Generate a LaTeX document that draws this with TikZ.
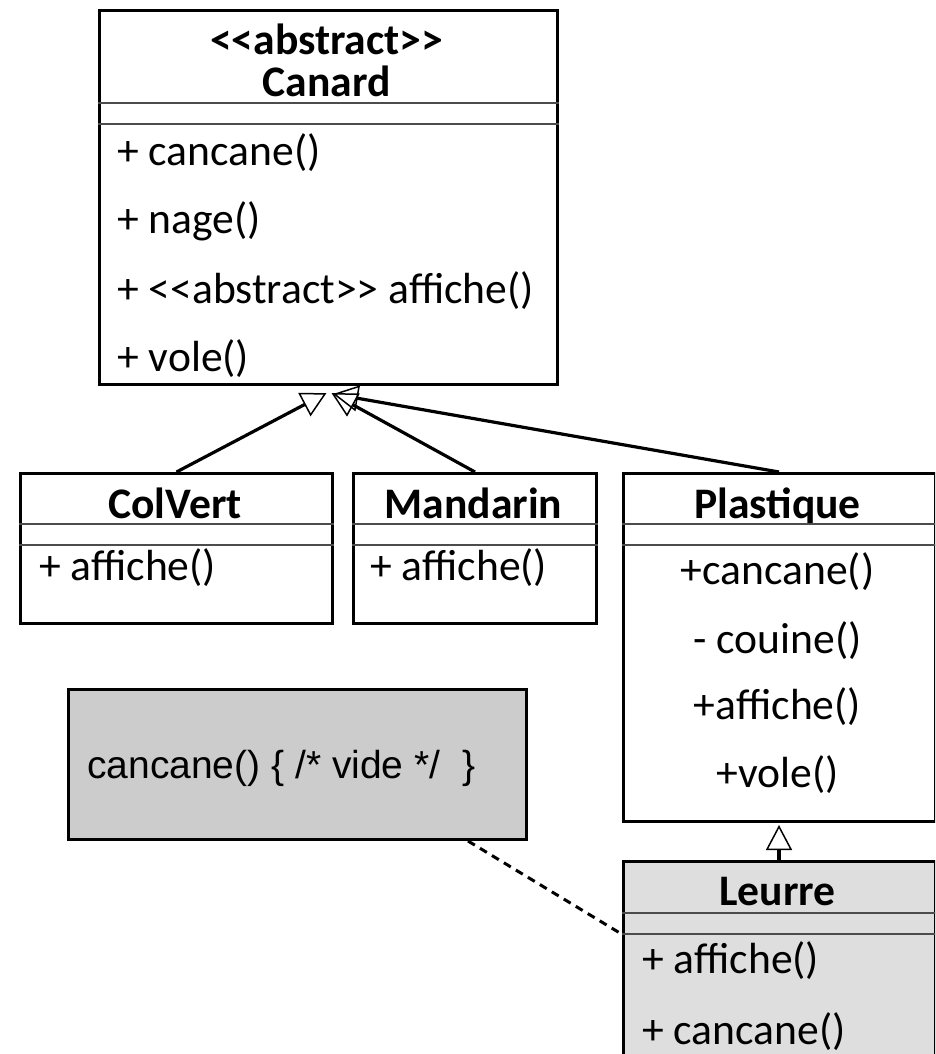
\documentclass[tikz,border=0pt]{standalone}
\usepackage{fontspec}
\setmainfont{Carlito}
\newfontfamily\notefont{Liberation Sans}
\usetikzlibrary{arrows.meta}
\newcommand\ltlt{<\kern0pt<}
\newcommand\gtgt{>\kern0pt>}
\begin{document}
\begin{tikzpicture}[x=1pt,y=-1pt,
  classbox/.style={draw, line width=3pt, inner sep=0, anchor=north west},
  sepline/.style={line width=1.3pt, draw=black!70},
  ttl/.style={font=\fontsize{43.6}{50}\selectfont\bfseries, inner sep=0, text height=30pt, text depth=0pt},
  meth/.style={font=\fontsize{43.6}{50}\selectfont, inner sep=0, text height=32pt, text depth=9pt},
  gen/.style={line width=3.2pt, -{Triangle[open, length=25pt, width=26pt, line width=1.5pt]}},
  notelink/.style={line width=3pt, dash pattern=on 8pt off 6pt}
]
\useasboundingbox (0,0) rectangle (935,1054);
\clip (0,0) rectangle (935,1054);

% Canard
\node[classbox, minimum width=458pt, minimum height=374pt] (canard) at (97.6,9) {};
\node[ttl] (canardst) at (326.6,40) {\ltlt abstract\gtgt};
\node[ttl] (canardname) at (326.6,82) {Canard};
\draw[sepline] (canard.west |- 0,103) -- (canard.east |- 0,103);
\draw[sepline] (canard.west |- 0,124) -- (canard.east |- 0,124);
\node[meth, anchor=west] (c1) at (117,154) {+ cancane()};
\node[meth, anchor=west] (c2) at (117,222) {+ nage()};
\node[meth, anchor=west] (c3) at (117,292) {+ \ltlt abstract\gtgt{} affiche()};
\node[meth, anchor=west] (c4) at (117,360) {+ vole()};

% ColVert
\node[classbox, minimum width=312pt, minimum height=150pt] (colvert) at (19,472) {};
\node[ttl] (colvertname) at (175,503) {ColVert};
\draw[sepline] (colvert.west |- 0,524) -- (colvert.east |- 0,524);
\draw[sepline] (colvert.west |- 0,545) -- (colvert.east |- 0,545);
\node[meth, anchor=west] (cv1) at (39,569) {+ affiche()};

% Mandarin
\node[classbox, minimum width=243pt, minimum height=150pt] (mandarin) at (352,472) {};
\node[ttl] (mandarinname) at (473.5,503) {Mandarin};
\draw[sepline] (mandarin.west |- 0,524) -- (mandarin.east |- 0,524);
\draw[sepline] (mandarin.west |- 0,545) -- (mandarin.east |- 0,545);
\node[meth, anchor=west] (m1) at (370,569) {+ affiche()};

% Plastique
\node[classbox, minimum width=312pt, minimum height=348pt] (plastique) at (621.5,472) {};
\node[ttl] (plastiquename) at (777.5,503) {Plastique};
\draw[sepline] (plastique.west |- 0,524) -- (plastique.east |- 0,524);
\draw[sepline] (plastique.west |- 0,545) -- (plastique.east |- 0,545);
\node[meth] (p1) at (777.5,573) {+cancane()};
\node[meth] (p2) at (777.5,642) {- couine()};
\node[meth] (p3) at (777.5,708) {+affiche()};
\node[meth] (p4) at (777.5,776) {+vole()};

% Leurre
\node[classbox, fill=black!13, minimum width=312pt, minimum height=210pt] (leurre) at (621.5,860) {};
\node[ttl] (leurrename) at (777.5,890) {Leurre};
\draw[sepline] (leurre.west |- 0,913) -- (leurre.east |- 0,913);
\draw[sepline] (leurre.west |- 0,934) -- (leurre.east |- 0,934);
\node[meth, anchor=west] (l1) at (642,962) {+ affiche()};
\node[meth, anchor=west] (l2) at (642,1033) {+ cancane()};
\coordinate (lsep) at (leurre.west |- 0,934);

% Note
\node[classbox, fill=black!20, minimum width=458pt, minimum height=150pt] (note) at (67,688) {};
\node[font=\notefont\fontsize{39}{46}\selectfont, inner sep=0, anchor=west] (notetext) at (87,768) {cancane() \{ /* vide */\ \ \}};

% connectors
\draw[gen] (colvert.north) -- ([shift={(-1.6,7)}]canard.south);
\draw[gen] (mandarin.north) -- ([shift={(3.4,7)}]canard.south);
\draw[gen] (plastique.north) -- ([shift={(5,8)}]canard.south);
\draw[gen] (leurre.north) -- ([shift={(0,2)}]plastique.south);
\draw[notelink] ([xshift=-60pt]note.south east) -- (lsep);
\end{tikzpicture}
\end{document}
